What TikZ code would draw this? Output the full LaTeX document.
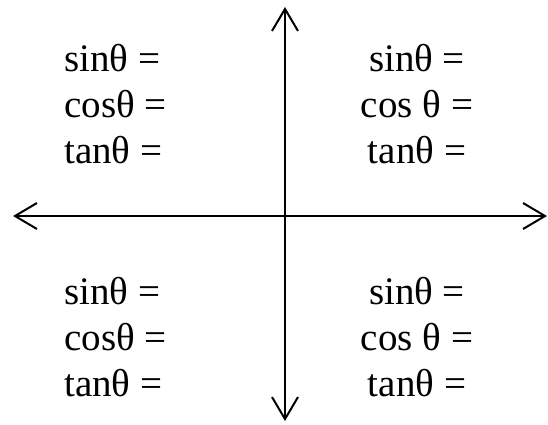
\documentclass[tikz,border=0pt]{standalone}
\usepackage{fontspec}
\setmainfont{Liberation Serif}
\usetikzlibrary{arrows.meta}
\tikzset{
  barb/.tip={Straight Barb[length=22pt,width=26pt,line width=2pt]},
  axis/.style={line width=1.7pt,barb-barb},
  ratios/.style={inner sep=0pt,font=\fontsize{39}{46}\selectfont},
}

\begin{document}
\begin{tikzpicture}[x=1pt,y=-1pt]
 \useasboundingbox (0,0) rectangle (548,424);
 % axes
 \coordinate (west) at (13,216);
 \coordinate (east) at (547,216);
 \coordinate (north) at (285,7);
 \coordinate (south) at (285,421);
 \draw[axis] (west)--(east);
 \draw[axis] (south)--(north);
 % quadrants
 \node[ratios,align=left,anchor=north west] (qtwo) at (64,44) {sinθ =\\cosθ =\\tanθ =};
 \node[ratios,align=center,anchor=north] (qone) at (417,44) {sinθ =\\cos θ =\\tanθ =};
 \node[ratios,align=left,anchor=north west] (qthree) at (64,277) {sinθ =\\cosθ =\\tanθ =};
 \node[ratios,align=center,anchor=north] (qfour) at (417,277) {sinθ =\\cos θ =\\tanθ =};
\end{tikzpicture}
\end{document}
